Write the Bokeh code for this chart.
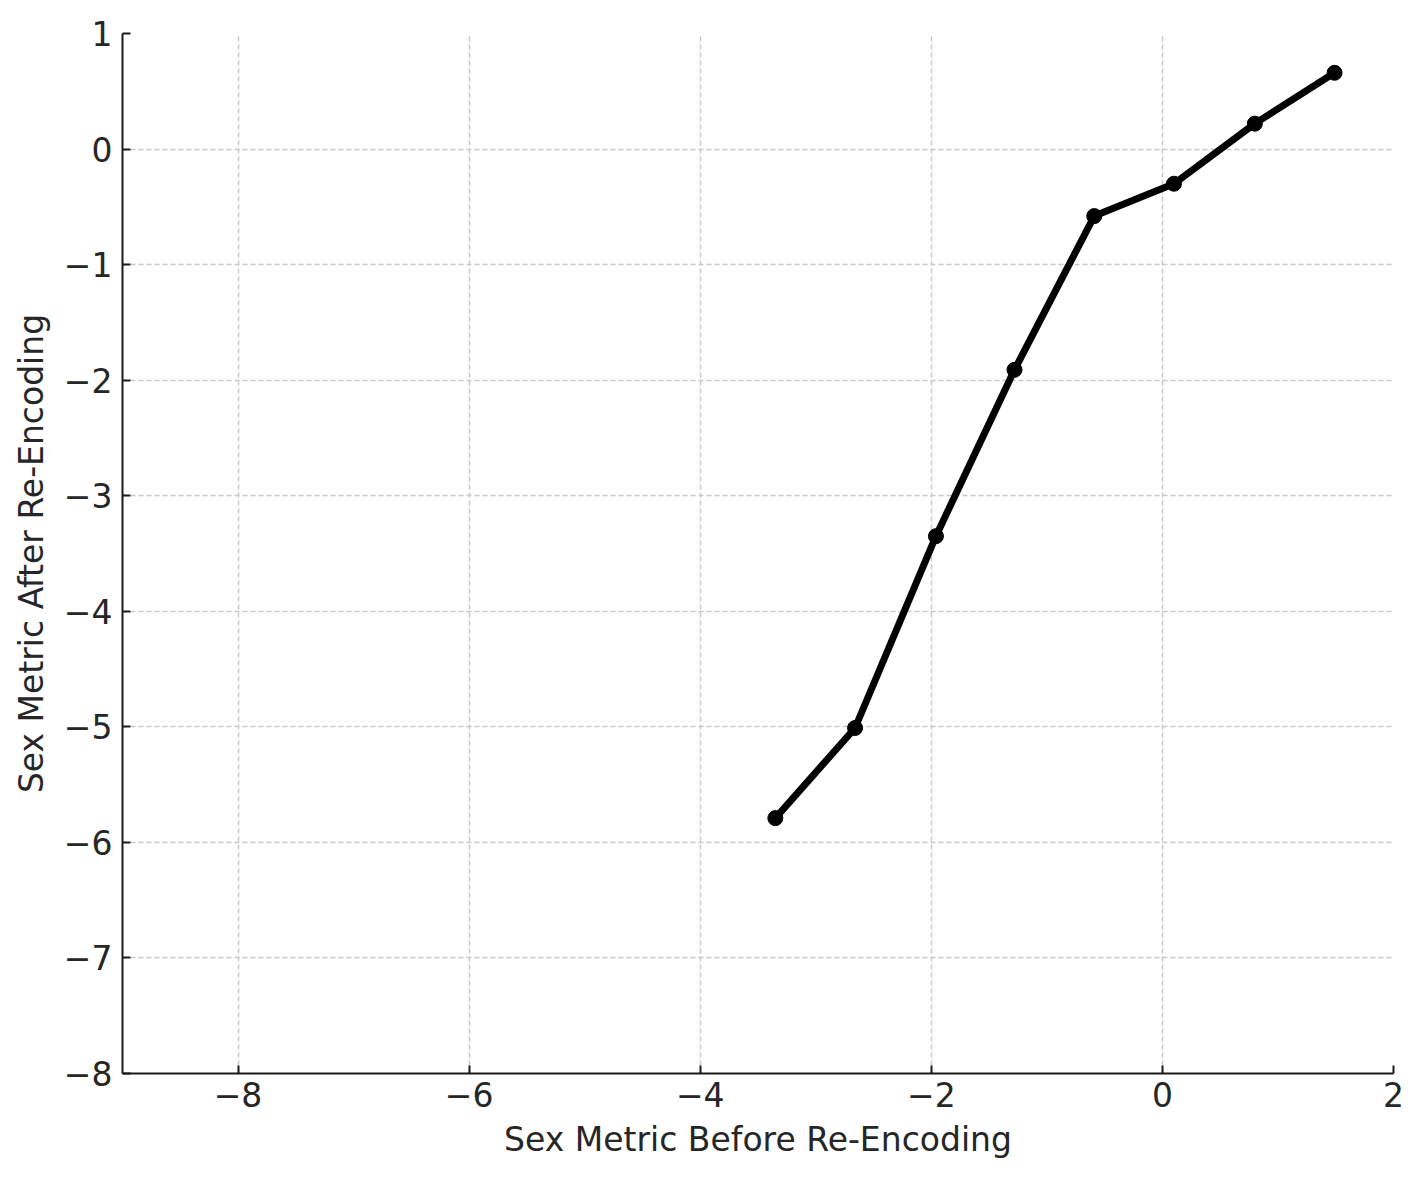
from bokeh.plotting import figure
from bokeh.models import Range1d, FixedTicker
from bokeh.embed import file_html
from bokeh.resources import INLINE

before = [-3.35, -2.66, -1.96, -1.28, -0.59, 0.10, 0.80, 1.49]
after = [-5.79, -5.01, -3.35, -1.91, -0.58, -0.30, 0.22, 0.66]
x_ticks = [-8, -6, -4, -2, 0, 2]
y_ticks = [-8, -7, -6, -5, -4, -3, -2, -1, 0, 1]

p = figure(width=1418, height=1175, output_backend="svg", toolbar_location=None,
           x_range=Range1d(-9, 2), y_range=Range1d(-8, 1),
           min_border_left=122, min_border_top=33, min_border_right=25, min_border_bottom=102)
p.outline_line_color = None
p.background_fill_color = "white"

p.line(before, after, line_width=7, color="black")
p.scatter(before, after, size=15, color="black")

font = "DejaVu Sans"
for ax in (p.xaxis[0], p.yaxis[0]):
    ax.axis_line_width = 2
    ax.axis_line_color = "#1a1a1a"
    ax.major_tick_in = 8
    ax.major_tick_out = 0
    ax.major_tick_line_width = 2
    ax.major_tick_line_color = "#1a1a1a"
    ax.minor_tick_line_color = None
    ax.major_label_text_font = font
    ax.major_label_text_font_size = "33px"
    ax.major_label_text_color = "#262626"
    ax.axis_label_text_font = font
    ax.axis_label_text_font_size = "33px"
    ax.axis_label_text_font_style = "normal"
    ax.axis_label_text_color = "#262626"

p.xaxis[0].ticker = FixedTicker(ticks=x_ticks)
p.yaxis[0].ticker = FixedTicker(ticks=y_ticks)
p.xaxis.axis_label = "Sex Metric Before Re-Encoding"
p.yaxis.axis_label = "Sex Metric After Re-Encoding"
p.xaxis.major_label_standoff = 8
p.yaxis.major_label_standoff = 10
p.xaxis.axis_label_standoff = 10
p.yaxis.axis_label_standoff = 10

for g in (p.xgrid[0], p.ygrid[0]):
    g.grid_line_color = "#c8c8c8"
    g.grid_line_dash = "5 3"
    g.grid_line_width = 1.5
    g.level = "underlay"

open("out.html", "w").write(file_html(p, INLINE))
